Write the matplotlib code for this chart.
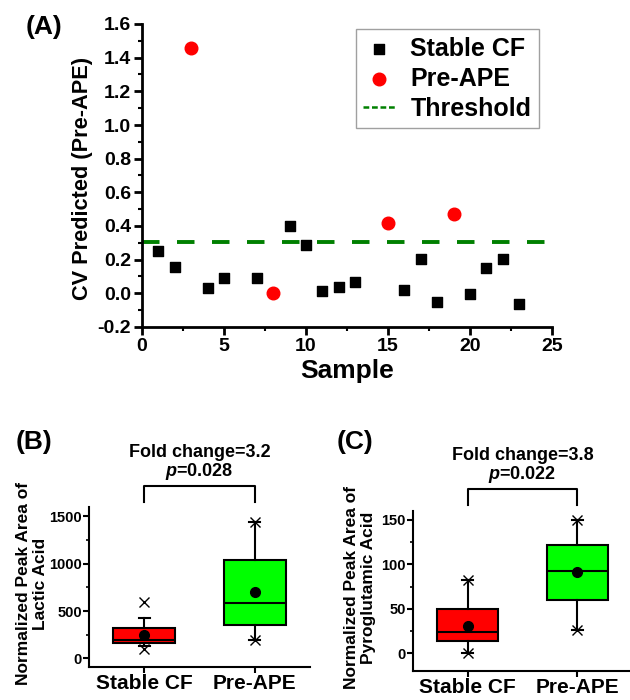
import numpy as np
import matplotlib
matplotlib.use('Agg')
from matplotlib import pyplot as plt
from matplotlib.lines import Line2D
from matplotlib.ticker import MultipleLocator

plt.rcParams['font.family'] = ['Liberation Sans', 'DejaVu Sans']
plt.rcParams['font.weight'] = 'bold'
plt.rcParams['axes.labelweight'] = 'bold'
plt.rcParams['mathtext.fontset'] = 'custom'
plt.rcParams['mathtext.it'] = 'Liberation Sans:italic:bold'
plt.rcParams['mathtext.rm'] = 'Liberation Sans:bold'

""" ======================= Data ======================= """
# (A) CV predicted values
stable_x = [1, 2, 4, 5, 7, 9, 10, 11, 12, 13, 16, 17, 18, 20, 21, 22, 23]
stable_y = [0.25, 0.154, 0.032, 0.09, 0.092, 0.40, 0.288, 0.014, 0.04, 0.07,
            0.018, 0.202, -0.054, -0.006, 0.15, 0.202, -0.064]
ape_x = [3, 8, 15, 19]
ape_y = [1.46, 0.0, 0.416, 0.47]
threshold = 0.306

# (B) / (C) box plot summaries, order: Stable CF, Pre-APE
groups = ['Stable CF', 'Pre-APE']
box_colors = ['#ff0000', '#00ff00']

lactic_q1 = [165, 357]
lactic_med = [190, 583]
lactic_q3 = [323, 1042]
lactic_lo = [130, 191]
lactic_hi = [427, 1441]
lactic_mean = [250, 705]
lactic_x = [[95, 601], [191, 1441]]

pyro_q1 = [14, 60]
pyro_med = [24, 93]
pyro_q3 = [50, 122]
pyro_lo = [0, 26]
pyro_hi = [82, 150]
pyro_mean = [31, 91]
pyro_x = [[0, 82], [26, 150]]


def make_stats(q1, med, q3, lo, hi, mean, fl):
    stats = []
    for i in range(len(q1)):
        stats.append(dict(q1=q1[i], med=med[i], q3=q3[i], whislo=lo[i],
                          whishi=hi[i], mean=mean[i], fliers=fl[i]))
    return stats


def style_axes(ax, lw):
    ax.spines['top'].set_visible(False)
    ax.spines['right'].set_visible(False)
    ax.spines['left'].set_linewidth(lw)
    ax.spines['bottom'].set_linewidth(lw)


def box_panel(ax, stats, ylim, major, minor, xlim, fold, pval, tag_y):
    bp = ax.bxp(stats, positions=[1, 2], widths=0.56, patch_artist=True,
                showmeans=True, capwidths=0.1,
                boxprops=dict(linewidth=1.5, edgecolor='black'),
                medianprops=dict(color='black', linewidth=1.5),
                whiskerprops=dict(color='black', linewidth=1.5),
                capprops=dict(color='black', linewidth=1.5),
                meanprops=dict(marker='o', markerfacecolor='black',
                               markeredgecolor='black', markersize=7),
                flierprops=dict(marker='x', markeredgecolor='black',
                                markersize=7, markeredgewidth=1))
    for patch, c in zip(bp['boxes'], box_colors):
        patch.set_facecolor(c)
    ax.set_xlim(xlim)
    ax.set_ylim(ylim)
    ax.set_xticks([1, 2])
    ax.set_xticklabels(groups, fontsize=15)
    ax.yaxis.set_major_locator(MultipleLocator(major))
    ax.yaxis.set_minor_locator(MultipleLocator(minor))
    ax.tick_params(axis='y', which='major', labelsize=10.5, length=4, width=1.5, pad=1)
    ax.tick_params(axis='y', which='minor', length=2.5, width=1.2)
    ax.tick_params(axis='x', length=4, width=1.5, pad=1)
    style_axes(ax, 1.5)
    # significance bracket
    tr = ax.get_xaxis_transform()
    y_top, y_bot = tag_y
    ax.plot([1, 1, 2, 2], [y_bot, y_top, y_top, y_bot], color='black',
            lw=1.5, transform=tr, clip_on=False)
    ax.text(1.5, y_top + 0.09, pval, transform=tr, ha='center', va='center',
            fontsize=13)
    ax.text(1.5, y_top + 0.21, fold, transform=tr, ha='center', va='center',
            fontsize=13)


fig = plt.figure(figsize=(6.3, 7), dpi=100)

""" ======================= Panel A ======================= """
axA = fig.add_axes([142 / 630, 1 - 327 / 700, 410 / 630, 303 / 700])
sc1 = axA.scatter(stable_x, stable_y, marker='s', s=62, color='black',
                  label='Stable CF', zorder=3)
sc2 = axA.scatter(ape_x, ape_y, marker='o', s=82, color='#ff0000',
                  label='Pre-APE', zorder=3)
axA.axhline(threshold, color='#008000', lw=2.8, ls=(0, (4.5, 4.5)), zorder=2)
axA.set_xlim(0, 25)
axA.set_ylim(-0.2, 1.6)
axA.xaxis.set_major_locator(MultipleLocator(5))
axA.xaxis.set_minor_locator(MultipleLocator(2.5))
axA.yaxis.set_major_locator(MultipleLocator(0.2))
axA.yaxis.set_minor_locator(MultipleLocator(0.1))
axA.yaxis.set_major_formatter(plt.FormatStrFormatter('%.1f'))
axA.tick_params(which='major', labelsize=14, length=6, width=2, pad=2)
axA.tick_params(which='minor', length=3, width=1.5)
style_axes(axA, 2)
axA.set_xlabel('Sample', fontsize=19, labelpad=3)
axA.set_ylabel('CV Predicted (Pre-APE)', fontsize=15.7)
axA.yaxis.set_label_coords(-0.12, 0.49)

thr_handle = Line2D([], [], color='#008000', lw=1.8, ls=(0, (2.3, 1.1)))
leg = axA.legend([sc1, sc2, thr_handle], ['Stable CF', 'Pre-APE', 'Threshold'],
                 loc='upper right', bbox_to_anchor=(539 / 630, 1 - 29 / 700),
                 bbox_transform=fig.transFigure, borderaxespad=0,
                 fontsize=18, frameon=True, fancybox=False, edgecolor='#a0a0a0',
                 framealpha=1, labelspacing=0.24, handlelength=1.3,
                 handletextpad=0.6, borderpad=0.3, scatterpoints=1)
leg.get_frame().set_linewidth(1)

fig.text(44 / 630, 1 - 27 / 700, '(A)', fontsize=19, ha='center', va='center')

""" ======================= Panel B ======================= """
axB = fig.add_axes([89 / 630, 1 - 667 / 700, 221 / 630, 160 / 700])
box_panel(axB, make_stats(lactic_q1, lactic_med, lactic_q3, lactic_lo,
                          lactic_hi, lactic_mean, lactic_x),
          (-90, 1600), 500, 250, (0.5, 2.5),
          'Fold change=3.2', r'$\mathit{p}$=0.028', (1.13, 1.03))
axB.set_ylabel('Normalized Peak Area of\nLactic Acid', fontsize=12.5,
               linespacing=1.15)
axB.yaxis.set_label_coords(-0.185, 0.52)
fig.text(34 / 630, 1 - 442 / 700, '(B)', fontsize=19, ha='center', va='center')

""" ======================= Panel C ======================= """
axC = fig.add_axes([412.7 / 630, 1 - 671 / 700, 217.3 / 630, 160 / 700])
box_panel(axC, make_stats(pyro_q1, pyro_med, pyro_q3, pyro_lo,
                          pyro_hi, pyro_mean, pyro_x),
          (-20, 160), 50, 25, (0.5, 2.48),
          'Fold change=3.8', r'$\mathit{p}$=0.022', (1.14, 1.04))
axC.set_ylabel('Normalized Peak Area of\nPyroglutamic Acid', fontsize=12.5,
               linespacing=1.15)
axC.yaxis.set_label_coords(-0.17, 0.52)
fig.text(355 / 630, 1 - 442 / 700, '(C)', fontsize=19, ha='center', va='center')

plt.savefig('out.png', dpi=100)
